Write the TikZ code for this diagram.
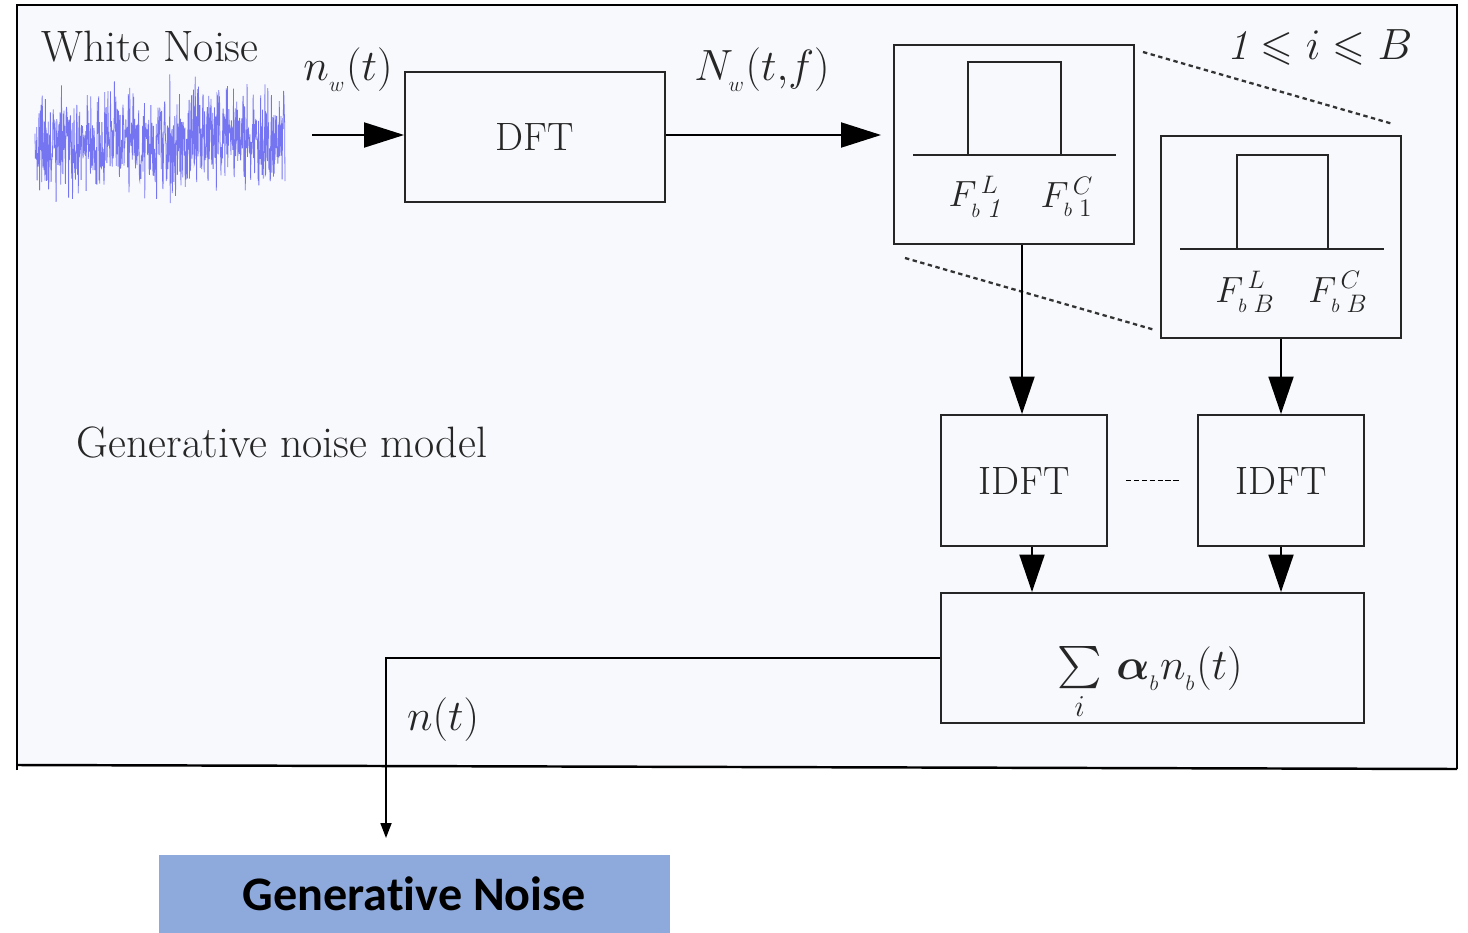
\documentclass[tikz,border=0pt]{standalone}
\usepackage{amsmath,amssymb}
\usepackage{fontspec}
\newfontfamily\carlito[Ligatures=NoCommon]{Carlito}
\usetikzlibrary{arrows.meta}
\definecolor{framebg}{HTML}{F8F9FD}
\definecolor{txt}{HTML}{262626}
\definecolor{noiseblue}{HTML}{5555EE}
\definecolor{genfill}{HTML}{8EA9DB}
\begin{document}
\begin{tikzpicture}[x=0.02cm,y=-0.02cm,
  box/.style={draw=black!85, line width=1.1pt, fill=framebg, inner sep=0pt, text=txt},
  bigarrow/.style={line width=1.1pt, -{Triangle[length=0.8cm,width=0.5cm]}},
  vararrow/.style={line width=1.1pt, -{Triangle[length=0.75cm,width=0.5cm]}},
  lbl/.style={text=txt, inner sep=0pt},
  inner/.style={line width=1.1pt, draw=black!85},
  zoomline/.style={line width=1.3pt, dash pattern=on 2.5pt off 2pt, draw=black!80},
  big/.style={font=\fontsize{24}{28}\selectfont},
  huge/.style={font=\fontsize{25}{30}\selectfont},
  flt/.style={font=\fontsize{22}{26}\selectfont},
  boxfont/.style={font=\fontsize{22.5}{27}\selectfont},
  ]
\useasboundingbox (0,0) rectangle (1468,933);
\fill[white] (0,0) rectangle (1468,933);
\fill[framebg] (17,5) -- (1457,5) -- (1457,769) -- (17,765) -- cycle;
\draw[line width=1.4pt] (17,770) -- (17,5) -- (1457,5) -- (1457,769);
\draw[line width=1.4pt] (17,765) -- (1457,769);

% noise waveform
\pgfmathsetseed{7}
\draw[noiseblue, line width=0.45pt, opacity=0.8] plot[domain=35:285, samples=700, variable=\x] (\x,{140+25*(rand+rand+rand)});

% labels
\node[lbl, huge] (wn) at (150,47) {White Noise};
\node[lbl, big] (nw) at (348,70) {$n_{_w}(t)$};
\node[lbl, big] (Nw) at (762,70) {$N_{_w}(t{,}f)$};
\node[lbl, big] (range) at (1320,47) {$\mathit{1}\leqslant i\leqslant B$};
\node[lbl, huge] (gnm) at (282,442) {Generative noise model};
\node[lbl, big] (nt) at (443,720) {$n(t)$};

% boxes
\node[box, boxfont, minimum width=5.2cm, minimum height=2.6cm] (dft) at (535,137) {DFT};
\node[box, minimum width=4.8cm, minimum height=3.98cm] (f1) at (1014,144.5) {};
\node[box, minimum width=4.8cm, minimum height=4.04cm] (fB) at (1281,237) {};
\node[box, boxfont, minimum width=3.32cm, minimum height=2.62cm] (i1) at (1024,480.5) {IDFT};
\node[box, boxfont, minimum width=3.32cm, minimum height=2.62cm] (i2) at (1281,480.5) {IDFT};
\node[box, minimum width=8.46cm, minimum height=2.6cm] (sum) at (1152.5,658) {};
\node[lbl, big, anchor=base] (sumlbl) at (1150,679) {$\sum\limits_{i}\,\boldsymbol{\alpha}_{_b} n_{_b}(t)$};
\node[fill=genfill, text=black, minimum width=10.22cm, minimum height=1.56cm, font=\carlito\bfseries\fontsize{27.4}{32}\selectfont] (gen) at (414.5,894) {Generative Noise};

% filter 1 contents
\draw[inner] (913,155) -- (1116,155);
\draw[inner] (968,155) -- (968,62) -- (1061,62) -- (1061,155);
\node[lbl, flt] (f1l) at (975,197) {$F^{\,L}_{{\scriptscriptstyle b}\;\mathit{1}}$};
\node[lbl, flt] (f1c) at (1067,197) {$F^{\,C}_{{\scriptscriptstyle b}\;1}$};
% filter B contents
\draw[inner] (1180,249) -- (1384,249);
\draw[inner] (1237,249) -- (1237,155) -- (1328,155) -- (1328,249);
\node[lbl, flt] (fBl) at (1245,292) {$F^{\,L}_{{\scriptscriptstyle b}\;B}$};
\node[lbl, flt] (fBc) at (1338,292) {$F^{\,C}_{{\scriptscriptstyle b}\;B}$};

% zoom lines
\coordinate (z1a) at (1143,52);
\coordinate (z1b) at (1393,124);
\coordinate (z2a) at (905,258);
\coordinate (z2b) at (1155,330);
\draw[zoomline] (z1a) -- (z1b);
\draw[zoomline] (z2a) -- (z2b);

% connectors
\coordinate (nstart) at (312,135);
\draw[bigarrow] (nstart) -- (nstart -| dft.west);
\draw[bigarrow, shorten >=0.24cm] (dft.east |- nstart) -- (nstart -| f1.west);
\coordinate (c1) at (1022,0);
\draw[vararrow] (f1.south -| c1) -- (i1.north -| c1);
\draw[vararrow] (fB.south) -- (i2.north);
\coordinate (c3) at (1032,0);
\draw[vararrow] (i1.south -| c3) -- (sum.north -| c3);
\draw[vararrow] (i2.south) -- (sum.north -| i2.south);
\draw[line width=0.8pt, dash pattern=on 3pt off 1.5pt] ([xshift=0.36cm]i1.east) -- ([xshift=-0.36cm]i2.west);
\coordinate (nend) at (386,838);
\draw[line width=1pt, -{Triangle[length=0.3cm,width=0.22cm]}] (sum.west) -| (nend);
\end{tikzpicture}
\end{document}
